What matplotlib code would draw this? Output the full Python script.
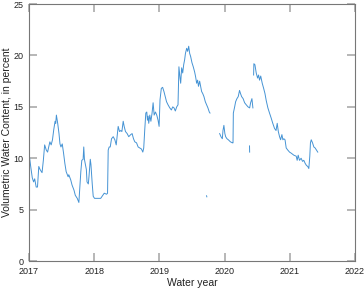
import numpy as np
import matplotlib
matplotlib.use("Agg")
import matplotlib.pyplot as plt

# water year offset from 2017 and volumetric water content, percent
years_a = [0.00, 0.026, 0.05, 0.07, 0.087, 0.11, 0.13, 0.15, 0.17, 0.20, 0.22, 0.24,
           0.265, 0.285, 0.32, 0.34, 0.36, 0.38, 0.40, 0.41, 0.42, 0.44, 0.46, 0.475,
           0.49, 0.51, 0.53, 0.55, 0.57, 0.60, 0.61, 0.64, 0.66, 0.69, 0.71, 0.74,
           0.765, 0.775, 0.795, 0.81, 0.83, 0.84, 0.85, 0.87, 0.88, 0.89, 0.91, 0.92,
           0.94, 0.95, 0.97, 0.985, 1.005, 1.05, 1.10, 1.154, 1.19, 1.205, 1.215,
           1.23, 1.246, 1.266, 1.292, 1.317, 1.338, 1.368, 1.389, 1.409, 1.425,
           1.445, 1.46, 1.48, 1.506, 1.53, 1.56, 1.582, 1.603, 1.623, 1.65, 1.674,
           1.70, 1.725, 1.746, 1.76, 1.776, 1.792, 1.807, 1.817, 1.827, 1.837,
           1.853, 1.87, 1.888, 1.904, 1.92, 1.94, 1.96, 1.98, 1.996, 2.01, 2.03,
           2.05, 2.07, 2.09, 2.11, 2.133, 2.16, 2.184, 2.205, 2.225, 2.245, 2.266,
           2.286, 2.30, 2.317, 2.327, 2.342, 2.358, 2.373, 2.388, 2.40, 2.419,
           2.434, 2.45, 2.465, 2.48, 2.50, 2.52, 2.541, 2.557, 2.572, 2.587, 2.60,
           2.618, 2.633, 2.648, 2.665, 2.684, 2.705, 2.725, 2.745, 2.766, 2.777]
vwc_a = [10.5, 9.2, 8.1, 7.7, 8.0, 7.2, 7.2, 9.2, 8.9, 8.6, 9.8, 11.3,
         10.8, 10.6, 11.6, 11.3, 11.8, 12.8, 13.6, 13.4, 14.2, 13.4, 12.4, 11.4,
         11.1, 11.4, 10.5, 9.5, 8.7, 8.2, 8.4, 7.9, 7.4, 6.9, 6.4, 6.1,
         5.7, 6.7, 8.7, 9.8, 9.9, 11.1, 9.9, 9.2, 8.9, 7.7, 7.5, 8.2,
         9.9, 9.4, 7.5, 6.3, 6.1, 6.1, 6.1, 6.6, 6.5, 6.6, 10.8,
         11.1, 11.1, 11.9, 12.1, 11.8, 11.3, 13.1, 12.6, 12.7, 12.6,
         13.6, 13.1, 12.6, 12.4, 12.1, 12.3, 12.4, 11.9, 11.6, 11.5, 11.1,
         11.0, 10.9, 10.6, 11.0, 12.8, 14.4, 14.5, 13.7, 14.1, 13.4,
         14.2, 13.6, 14.4, 15.4, 14.2, 14.5, 14.2, 13.7, 13.1, 15.7, 16.8,
         16.9, 16.5, 16.0, 15.5, 15.2, 14.9, 14.7, 15.0, 14.9, 14.6, 15.0,
         15.2, 18.9, 17.8, 17.3, 18.8, 18.3, 19.1, 19.6, 20.2, 20.7,
         20.4, 20.9, 20.2, 19.9, 19.3, 18.9, 18.4, 17.9, 17.3, 17.6, 17.0,
         17.5, 17.0, 16.5, 16.3, 16.0, 15.5, 15.2, 14.9, 14.5, 14.4]

years_b = [2.925, 2.945, 2.966, 2.976, 2.99, 3.005, 3.017, 3.037, 3.058, 3.09,
           3.12, 3.13, 3.135, 3.155, 3.17, 3.19, 3.21, 3.23, 3.245, 3.262,
           3.285, 3.308, 3.333, 3.36, 3.385, 3.40, 3.42, 3.435]
vwc_b = [12.4, 12.1, 11.9, 12.7, 13.2, 12.4, 12.1, 11.9, 11.8, 11.6,
         11.5, 11.5, 14.4, 15.0, 15.5, 15.8, 16.0, 16.6, 16.3, 16.0,
         15.8, 15.4, 15.2, 15.0, 14.9, 15.4, 15.8, 14.9]

years_c = [3.446, 3.45, 3.466, 3.486, 3.507, 3.522, 3.537, 3.555, 3.578, 3.60,
           3.62, 3.64, 3.665, 3.69, 3.716, 3.74, 3.767, 3.79, 3.808, 3.825,
           3.844, 3.86, 3.88, 3.895, 3.91, 3.928, 3.946, 3.97, 3.997, 4.022,
           4.063, 4.10, 4.114, 4.13, 4.15, 4.175, 4.196, 4.216, 4.237, 4.257,
           4.277, 4.293, 4.308, 4.318, 4.33, 4.35, 4.37, 4.39, 4.41, 4.43]
vwc_c = [18.1, 19.2, 19.1, 18.3, 17.8, 18.1, 17.6, 18.0, 17.3, 16.8,
         16.3, 15.6, 14.9, 14.4, 13.9, 13.4, 12.9, 12.7, 13.4, 12.6,
         12.1, 11.8, 12.3, 11.8, 11.9, 11.8, 11.0, 10.8, 10.6, 10.5,
         10.3, 10.2, 9.8, 10.3, 9.8, 10.0, 9.7, 9.8, 9.5, 9.3,
         9.2, 9.0, 10.2, 11.5, 11.8, 11.5, 11.1, 11.0, 10.8, 10.6]

# isolated short readings
years_d = [2.724, 2.728]
vwc_d = [6.35, 6.25]
years_e = [3.383, 3.385]
vwc_e = [11.2, 10.6]

year_ticks = [2017, 2018, 2019, 2020, 2021, 2022]
start_year = 2017
line_color = "#4593d4"

plt.rcParams["font.family"] = ["Liberation Sans Narrow", "Liberation Sans", "DejaVu Sans"]
fig = plt.figure(figsize=(3.64, 2.92), dpi=100)
ax = fig.add_axes([0.0797, 0.106, 0.8953, 0.880])

for yrs, vals in [(years_a, vwc_a), (years_b, vwc_b), (years_c, vwc_c),
                  (years_d, vwc_d), (years_e, vwc_e)]:
    ax.plot(start_year + np.array(yrs), vals, color=line_color, lw=0.7)

ax.set_xlim(2017, 2022)
ax.set_ylim(0, 25)
ax.set_xticks(year_ticks)
ax.set_xticklabels([str(y) for y in year_ticks])
ax.set_yticks(np.arange(0, 26, 5))
ax.tick_params(direction="in", top=True, right=True, length=6, width=1.2,
               color="#aaaaaa", labelsize=6.5, labelcolor="#222222", pad=4)
for s in ax.spines.values():
    s.set_color("#777777")
    s.set_linewidth(0.8)
ax.set_xlabel("Water year", fontsize=7.5, color="#222222", labelpad=2)
ax.set_ylabel("Volumetric Water Content, in percent", fontsize=7.5,
              color="#222222", labelpad=1)

fig.savefig("out.png", dpi=100)
